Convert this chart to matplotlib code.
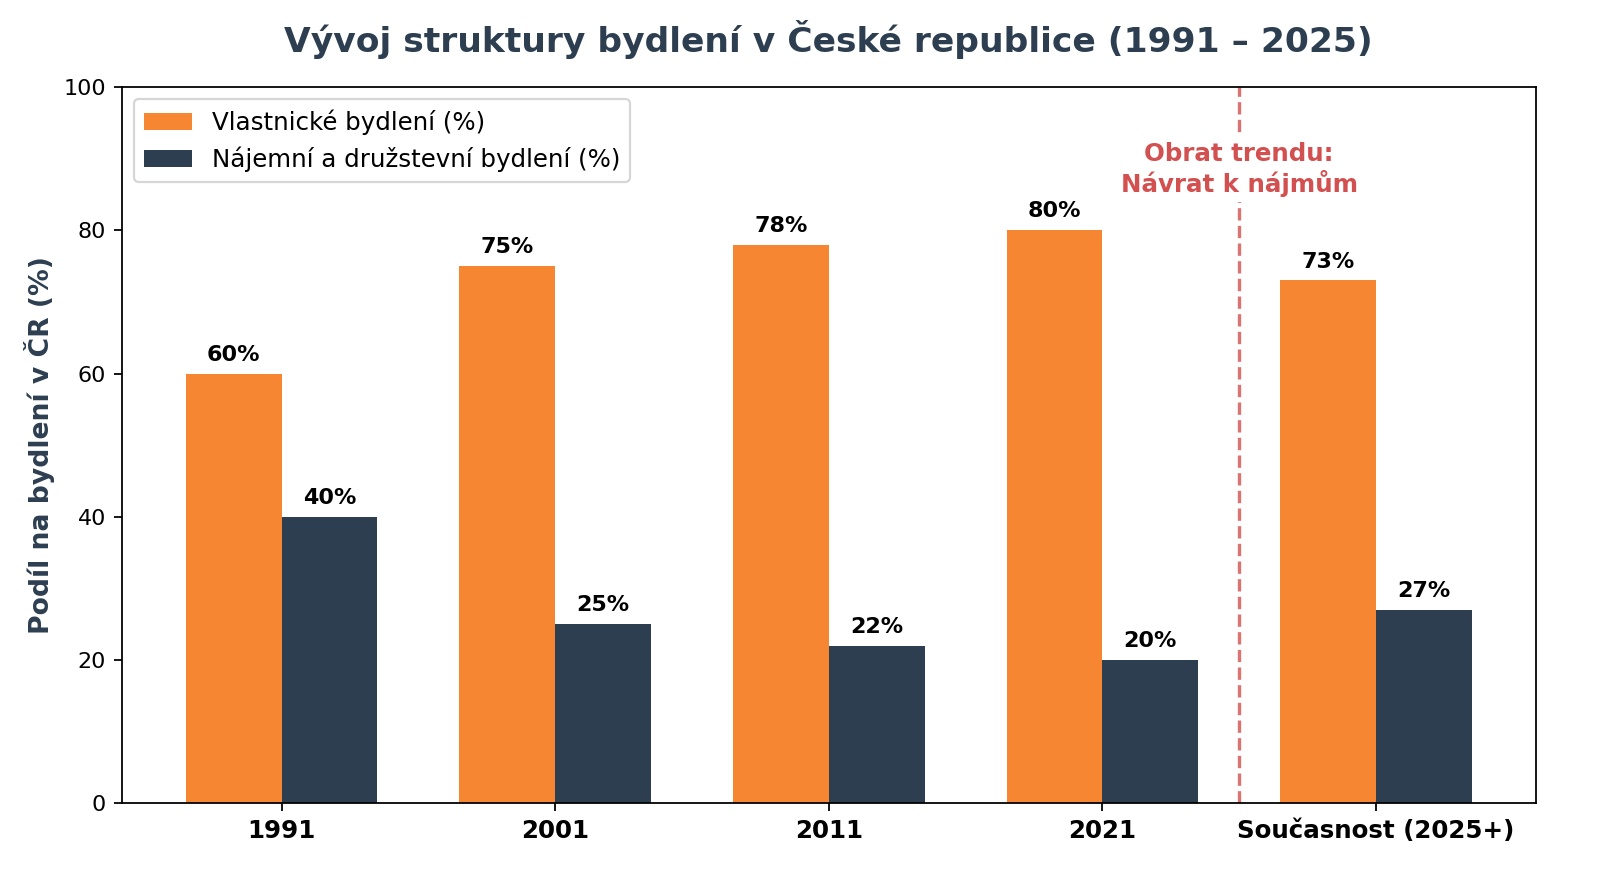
import numpy as np
import matplotlib
matplotlib.use("Agg")
import matplotlib.pyplot as plt

# data
periods = ["1991", "2001", "2011", "2021", "Současnost (2025+)"]
owner_pct = [60, 75, 78, 80, 73]
rent_pct = [40, 25, 22, 20, 27]

ORANGE = "#F68632"
NAVY = "#2C3E50"
RED = "#D35050"

fig, ax = plt.subplots(figsize=(10, 5.50625), dpi=160)

x = np.arange(len(periods))
w = 0.35
b1 = ax.bar(x - w / 2, owner_pct, w, color=ORANGE, label="Vlastnické bydlení (%)")
b2 = ax.bar(x + w / 2, rent_pct, w, color=NAVY, label="Nájemní a družstevní bydlení (%)")

for bars in (b1, b2):
    for rect in bars:
        h = rect.get_height()
        ax.annotate(f"{h:.0f}%", (rect.get_x() + rect.get_width() / 2, h),
                    xytext=(0, 4), textcoords="offset points",
                    ha="center", va="bottom", fontsize=10, fontweight="bold")

# trend reversal marker between 2021 and today
ax.axvline(3.5, color=RED, linestyle="--", linewidth=1.5, alpha=0.8)
ax.text(3.5, 88.5, "Obrat trendu:\nNávrat k nájmům", ha="center", va="center",
        color=RED, fontsize=11, fontweight="bold",
        bbox=dict(facecolor="white", edgecolor="none", pad=2))

ax.set_ylim(0, 100)
ax.set_xticks(x)
ax.set_xticklabels(periods, fontsize=11, fontweight="bold")
ax.tick_params(axis="y", labelsize=10)
ax.set_ylabel("Podíl na bydlení v ČR (%)", fontsize=12, fontweight="bold", color=NAVY)
ax.set_title("Vývoj struktury bydlení v České republice (1991 – 2025)",
             fontsize=15.5, fontweight="bold", color=NAVY, pad=16)
ax.legend(loc="upper left", fontsize=11)

fig.subplots_adjust(left=0.076, right=0.96, top=0.901, bottom=0.0885)
fig.savefig("out.png", dpi=160)
